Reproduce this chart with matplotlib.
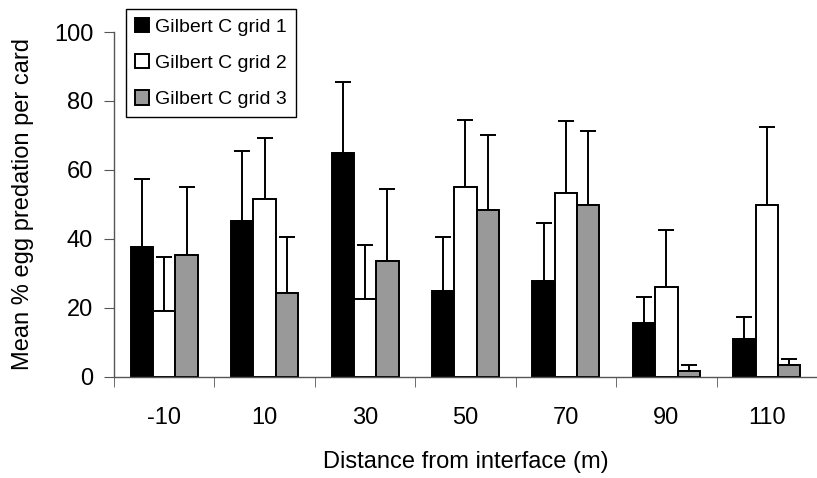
import numpy as np
import matplotlib
matplotlib.use("Agg")
import matplotlib.pyplot as plt

plt.rcParams['font.family'] = ['Liberation Sans', 'DejaVu Sans']

distances = ['-10', '10', '30', '50', '70', '90', '110']
series_names = ['Gilbert C grid 1', 'Gilbert C grid 2', 'Gilbert C grid 3']
grid1 = [37.7, 45.2, 64.9, 24.9, 27.8, 15.7, 11.0]
grid2 = [19.0, 51.5, 22.4, 54.9, 53.2, 26.0, 49.7]
grid3 = [35.3, 24.2, 33.5, 48.5, 49.8, 1.7, 3.3]
grid1_top = [57.3, 65.4, 85.6, 40.4, 44.6, 23.1, 17.3]
grid2_top = [34.6, 69.3, 38.1, 74.6, 74.1, 42.7, 72.3]
grid3_top = [55.1, 40.4, 54.4, 70.0, 71.2, 3.4, 5.1]

colors = ['black', 'white', '#999999']


def main():
    fig = plt.figure(figsize=(8.17, 4.78), dpi=100)
    ax = fig.add_axes([114 / 817, 1 - 376.7 / 478, 1 - 114 / 817, (376.7 - 32) / 478])

    x = np.arange(len(distances))
    w = 0.222
    means = [grid1, grid2, grid3]
    tops = [grid1_top, grid2_top, grid3_top]
    for i in range(3):
        pos = x + (i - 1) * w
        m = np.array(means[i])
        err = np.array(tops[i]) - m
        ax.bar(pos, m, width=w, color=colors[i], edgecolor='black',
               linewidth=1.4, label=series_names[i], zorder=2)
        ax.errorbar(pos, m, yerr=[np.zeros_like(err), err], fmt='none',
                    ecolor='black', elinewidth=1.4, capsize=6, capthick=1.4, zorder=1)

    ax.set_xlim(-0.5, 6.43)
    ax.set_ylim(0, 100)
    ax.set_yticks([0, 20, 40, 60, 80, 100])
    ax.set_xticks(x)
    ax.set_xticklabels(distances)
    ax.set_xticks(np.arange(-0.5, 6.6, 1), minor=True)
    ax.tick_params(axis='x', which='major', length=0, pad=22, labelsize=17)
    ax.tick_params(axis='x', which='minor', length=7, color='#555555')
    ax.tick_params(axis='y', length=7, color='#555555', labelsize=17, pad=8)
    for s in ['top', 'right']:
        ax.spines[s].set_visible(False)
    for s in ['left', 'bottom']:
        ax.spines[s].set_color('#555555')
        ax.spines[s].set_linewidth(1.0)

    ax.set_xlabel('Distance from interface (m)', fontsize=17, labelpad=16)
    ax.set_ylabel('Mean % egg predation per card', fontsize=17, labelpad=14)

    leg = ax.legend(loc='upper left', bbox_to_anchor=(126 / 817, 1 - 9 / 478),
                    bbox_transform=fig.transFigure, borderaxespad=0,
                    fontsize=14, handlelength=0.75, handleheight=0.75,
                    handletextpad=0.3, labelspacing=0.95, borderpad=0.45,
                    fancybox=False, framealpha=1, edgecolor='black')
    leg.get_frame().set_linewidth(1.0)

    fig.savefig('out.png', dpi=100)


if __name__ == "__main__":
    main()
